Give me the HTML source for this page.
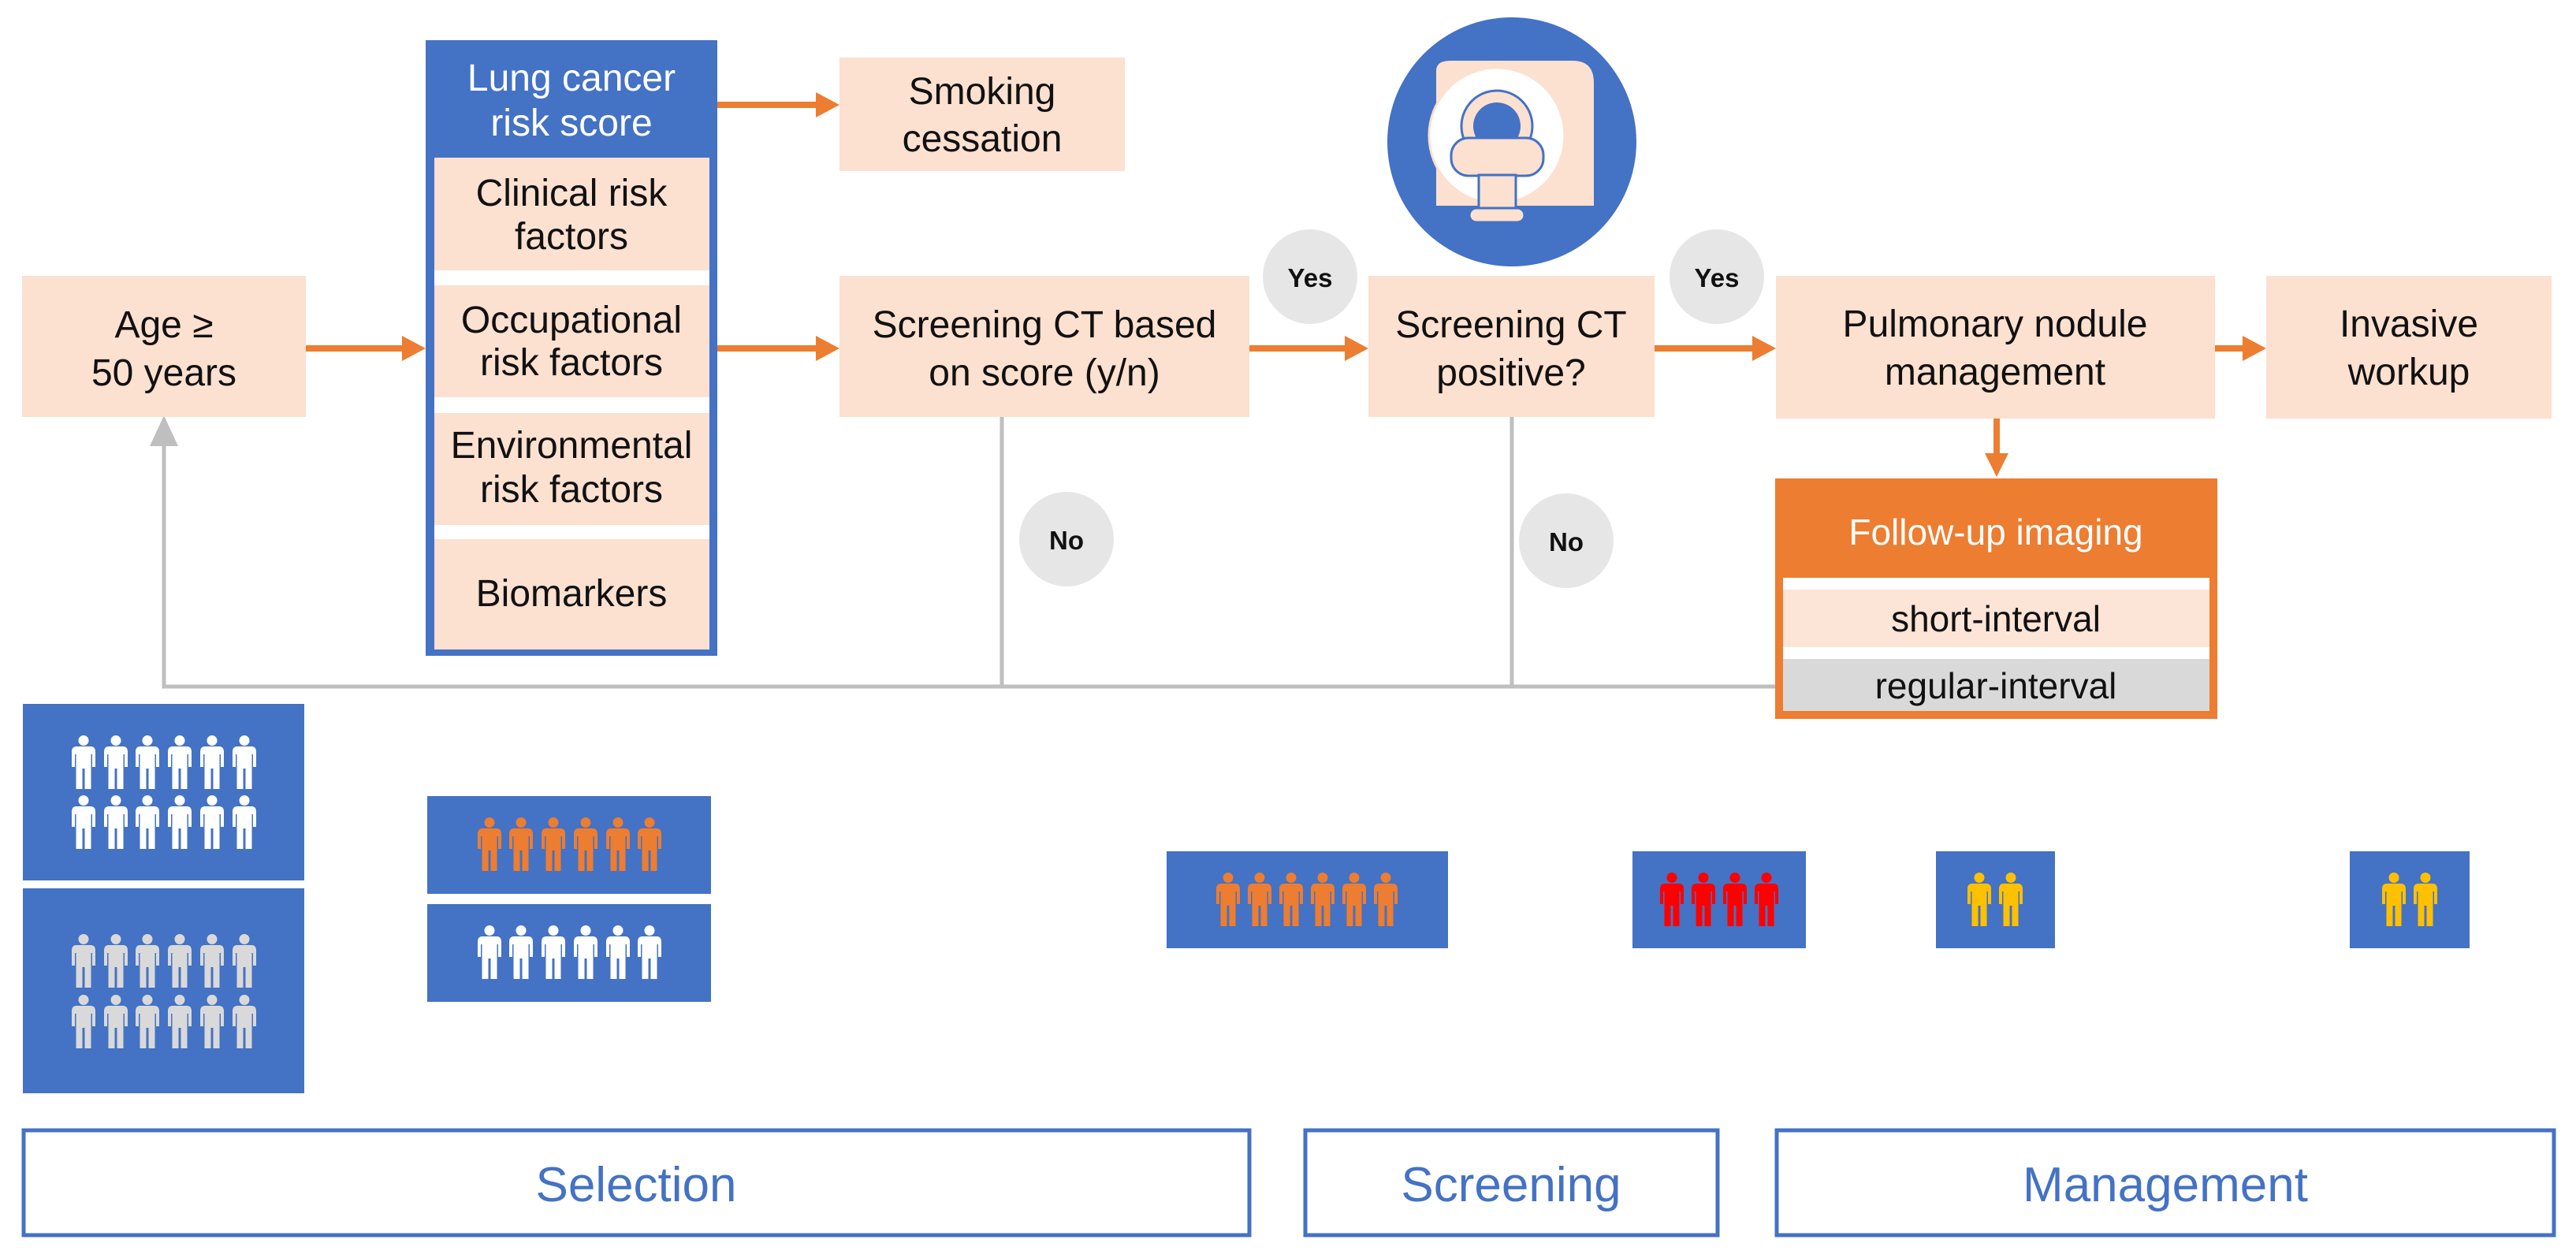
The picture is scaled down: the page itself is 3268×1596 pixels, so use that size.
<!DOCTYPE html>
<html><head><meta charset="utf-8"><style>
html,body{margin:0;padding:0;background:#fff;}
svg{display:block;}
text{font-family:"Liberation Sans",Arial,sans-serif;}
</style></head><body>
<svg width="3268" height="1596" viewBox="0 0 3268 1596" xmlns="http://www.w3.org/2000/svg">
<defs>
<path id="p" d="M0,0 a6.5,6.5 0 1,1 0.01,0 Z M-9,14 H9 Q15,14 15,21 V40 H11 V24 H9.5 V68 H1.5 V42 H-1.5 V68 H-9.5 V24 H-11 V40 H-15 V21 Q-15,14 -9,14 Z" transform="translate(0,0)"/>
<g id="person"><circle cx="0" cy="6.5" r="6.5"/><path d="M-9,14 H9 Q15,14 15,21 V40 H11 V24 H9.5 V68 H1.5 V42 H-1.5 V68 H-9.5 V24 H-11 V40 H-15 V21 Q-15,14 -9,14 Z"/></g>
</defs>

<!-- gray feedback lines -->
<g stroke="#bfbfbf" stroke-width="5" fill="none">
<polyline points="2252,871 208,871 208,560"/>
<line x1="1271" y1="529" x2="1271" y2="871"/>
<line x1="1918" y1="529" x2="1918" y2="871"/>
</g>
<polygon points="208,527 190,566 226,566" fill="#bfbfbf"/>

<!-- Age box -->
<rect x="28" y="350" width="360" height="179" fill="#fce0d0"/>
<text x="208" y="428" font-size="48" text-anchor="middle" fill="#111">Age ≥</text>
<text x="208" y="489" font-size="48" text-anchor="middle" fill="#111">50 years</text>

<!-- Risk box -->
<rect x="540" y="51" width="370" height="781" fill="#4472c4"/>
<rect x="551" y="200" width="349" height="143" fill="#fce0d0"/>
<rect x="551" y="343" width="349" height="19" fill="#fff"/>
<rect x="551" y="362" width="349" height="142" fill="#fce0d0"/>
<rect x="551" y="504" width="349" height="20" fill="#fff"/>
<rect x="551" y="524" width="349" height="142" fill="#fce0d0"/>
<rect x="551" y="666" width="349" height="18" fill="#fff"/>
<rect x="551" y="684" width="349" height="140" fill="#fce0d0"/>
<g font-size="48" text-anchor="middle">
<text x="725" y="115" fill="#fff">Lung cancer</text>
<text x="725" y="172" fill="#fff">risk score</text>
<text x="725" y="261" fill="#111">Clinical  risk</text>
<text x="725" y="316" fill="#111">factors</text>
<text x="725" y="422" fill="#111">Occupational</text>
<text x="725" y="476" fill="#111">risk factors</text>
<text x="725" y="581" fill="#111">Environmental</text>
<text x="725" y="637" fill="#111">risk factors</text>
<text x="725" y="769" fill="#111">Biomarkers</text>
</g>

<!-- Smoking cessation -->
<rect x="1065" y="73" width="362" height="144" fill="#fce0d0"/>
<text x="1246" y="132" font-size="48" text-anchor="middle" fill="#111">Smoking</text>
<text x="1246" y="192" font-size="48" text-anchor="middle" fill="#111">cessation</text>

<!-- Screening CT based -->
<rect x="1065" y="350" width="520" height="179" fill="#fce0d0"/>
<text x="1325" y="428" font-size="48" text-anchor="middle" fill="#111">Screening CT based</text>
<text x="1325" y="489" font-size="48" text-anchor="middle" fill="#111">on score (y/n)</text>

<!-- Screening CT positive -->
<rect x="1736" y="350" width="363" height="179" fill="#fce0d0"/>
<text x="1917" y="428" font-size="48" text-anchor="middle" fill="#111">Screening CT</text>
<text x="1917" y="489" font-size="48" text-anchor="middle" fill="#111">positive?</text>

<!-- Pulmonary -->
<rect x="2253" y="350" width="557" height="181" fill="#fce0d0"/>
<text x="2531" y="427" font-size="48" text-anchor="middle" fill="#111">Pulmonary nodule</text>
<text x="2531" y="488" font-size="48" text-anchor="middle" fill="#111">management</text>

<!-- Invasive -->
<rect x="2875" y="350" width="362" height="181" fill="#fce0d0"/>
<text x="3056" y="427" font-size="48" text-anchor="middle" fill="#111">Invasive</text>
<text x="3056" y="488" font-size="48" text-anchor="middle" fill="#111">workup</text>

<!-- Follow-up -->
<rect x="2252" y="607" width="561" height="305" fill="#ed7d31"/>
<rect x="2262" y="733" width="541" height="15" fill="#fff"/>
<rect x="2262" y="748" width="541" height="73" fill="#fce4d6"/>
<rect x="2262" y="821" width="541" height="15" fill="#fff"/>
<rect x="2262" y="836" width="541" height="66" fill="#d9d9d9"/>
<text x="2532" y="691" font-size="46" text-anchor="middle" fill="#fff">Follow-up imaging</text>
<text x="2532" y="801" font-size="46" text-anchor="middle" fill="#111">short-interval</text>
<text x="2532" y="886" font-size="46" text-anchor="middle" fill="#111">regular-interval</text>

<!-- orange arrows -->
<g stroke="#ed7d31" stroke-width="8">
<line x1="388" y1="442" x2="515" y2="442"/>
<line x1="910" y1="133" x2="1040" y2="133"/>
<line x1="910" y1="442" x2="1040" y2="442"/>
<line x1="1585" y1="442" x2="1711" y2="442"/>
<line x1="2099" y1="442" x2="2228" y2="442"/>
<line x1="2810" y1="442" x2="2850" y2="442"/>
<line x1="2533" y1="531" x2="2533" y2="580"/>
</g>
<g fill="#ed7d31">
<polygon points="540,442 510,426 510,458"/>
<polygon points="1065,133 1035,117 1035,149"/>
<polygon points="1065,442 1035,426 1035,458"/>
<polygon points="1736,442 1706,426 1706,458"/>
<polygon points="2253,442 2223,426 2223,458"/>
<polygon points="2875,442 2845,426 2845,458"/>
<polygon points="2533,605 2518,575 2548,575"/>
</g>

<!-- Yes/No bubbles -->
<g fill="#e7e6e6">
<circle cx="1662" cy="351" r="60"/>
<circle cx="2178" cy="351" r="60"/>
<circle cx="1353" cy="684" r="60"/>
<circle cx="1987" cy="686" r="60"/>
</g>
<g font-size="33" font-weight="bold" text-anchor="middle" fill="#111">
<text x="1662" y="364">Yes</text>
<text x="2178" y="364">Yes</text>
<text x="1353" y="697">No</text>
<text x="1987" y="699">No</text>
</g>

<!-- MRI icon -->
<circle cx="1918" cy="180" r="158" fill="#4472c4"/>
<path d="M1822,261 V90 Q1822,77 1840,77 H1995 Q2022,77 2022,105 V261 Z" fill="#fce0d0"/>
<circle cx="1899" cy="172" r="86" fill="#fff" stroke="#fce0d0" stroke-width="3"/>
<circle cx="1899" cy="160" r="45" fill="#fce0d0" stroke="#4472c4" stroke-width="3"/>
<circle cx="1899" cy="160" r="30" fill="#4472c4"/>
<rect x="1841" y="175" width="117" height="48" rx="22" fill="#fce0d0" stroke="#4472c4" stroke-width="3"/>
<rect x="1876" y="222" width="47" height="46" fill="#fce0d0" stroke="#4472c4" stroke-width="3"/>
<rect x="1864" y="264" width="70" height="18" rx="9" fill="#fce0d0" stroke="#4472c4" stroke-width="3"/>

<!-- population boxes -->
<g fill="#4472c4">
<rect x="29" y="893" width="357" height="224"/>
<rect x="29" y="1127" width="357" height="260"/>
<rect x="542" y="1010" width="360" height="124"/>
<rect x="542" y="1147" width="360" height="124"/>
<rect x="1480" y="1080" width="357" height="123"/>
<rect x="2071" y="1080" width="220" height="123"/>
<rect x="2456" y="1080" width="151" height="123"/>
<rect x="2981" y="1080" width="152" height="123"/>
</g>
<g fill="#fff">
<use href="#person" x="106" y="933"/><use href="#person" x="147" y="933"/><use href="#person" x="187" y="933"/><use href="#person" x="228" y="933"/><use href="#person" x="269" y="933"/><use href="#person" x="310" y="933"/>
<use href="#person" x="106" y="1009"/><use href="#person" x="147" y="1009"/><use href="#person" x="187" y="1009"/><use href="#person" x="228" y="1009"/><use href="#person" x="269" y="1009"/><use href="#person" x="310" y="1009"/>
<use href="#person" x="621" y="1174"/><use href="#person" x="661" y="1174"/><use href="#person" x="702" y="1174"/><use href="#person" x="743" y="1174"/><use href="#person" x="784" y="1174"/><use href="#person" x="824" y="1174"/>
</g>
<g fill="#d9d9d9">
<use href="#person" x="106" y="1185"/><use href="#person" x="147" y="1185"/><use href="#person" x="187" y="1185"/><use href="#person" x="228" y="1185"/><use href="#person" x="269" y="1185"/><use href="#person" x="310" y="1185"/>
<use href="#person" x="106" y="1262"/><use href="#person" x="147" y="1262"/><use href="#person" x="187" y="1262"/><use href="#person" x="228" y="1262"/><use href="#person" x="269" y="1262"/><use href="#person" x="310" y="1262"/>
</g>
<g fill="#ed7d31">
<use href="#person" x="621" y="1037"/><use href="#person" x="661" y="1037"/><use href="#person" x="702" y="1037"/><use href="#person" x="743" y="1037"/><use href="#person" x="784" y="1037"/><use href="#person" x="824" y="1037"/>
<use href="#person" x="1558" y="1107"/><use href="#person" x="1598" y="1107"/><use href="#person" x="1638" y="1107"/><use href="#person" x="1678" y="1107"/><use href="#person" x="1718" y="1107"/><use href="#person" x="1758" y="1107"/>
</g>
<g fill="#ff0000">
<use href="#person" x="2121" y="1107"/><use href="#person" x="2161" y="1107"/><use href="#person" x="2201" y="1107"/><use href="#person" x="2241" y="1107"/>
</g>
<g fill="#ffc000">
<use href="#person" x="2511" y="1107"/><use href="#person" x="2551" y="1107"/>
<use href="#person" x="3037" y="1107"/><use href="#person" x="3077" y="1107"/>
</g>

<!-- phase labels -->
<g fill="#fff" stroke="#4472c4" stroke-width="5">
<rect x="30" y="1434" width="1555" height="133"/>
<rect x="1656" y="1434" width="523" height="133"/>
<rect x="2254" y="1434" width="986" height="133"/>
</g>
<g font-size="62" fill="#4472c4" text-anchor="middle">
<text x="807" y="1524">Selection</text>
<text x="1917" y="1524">Screening</text>
<text x="2747" y="1524">Management</text>
</g>
</svg>
</body></html>
